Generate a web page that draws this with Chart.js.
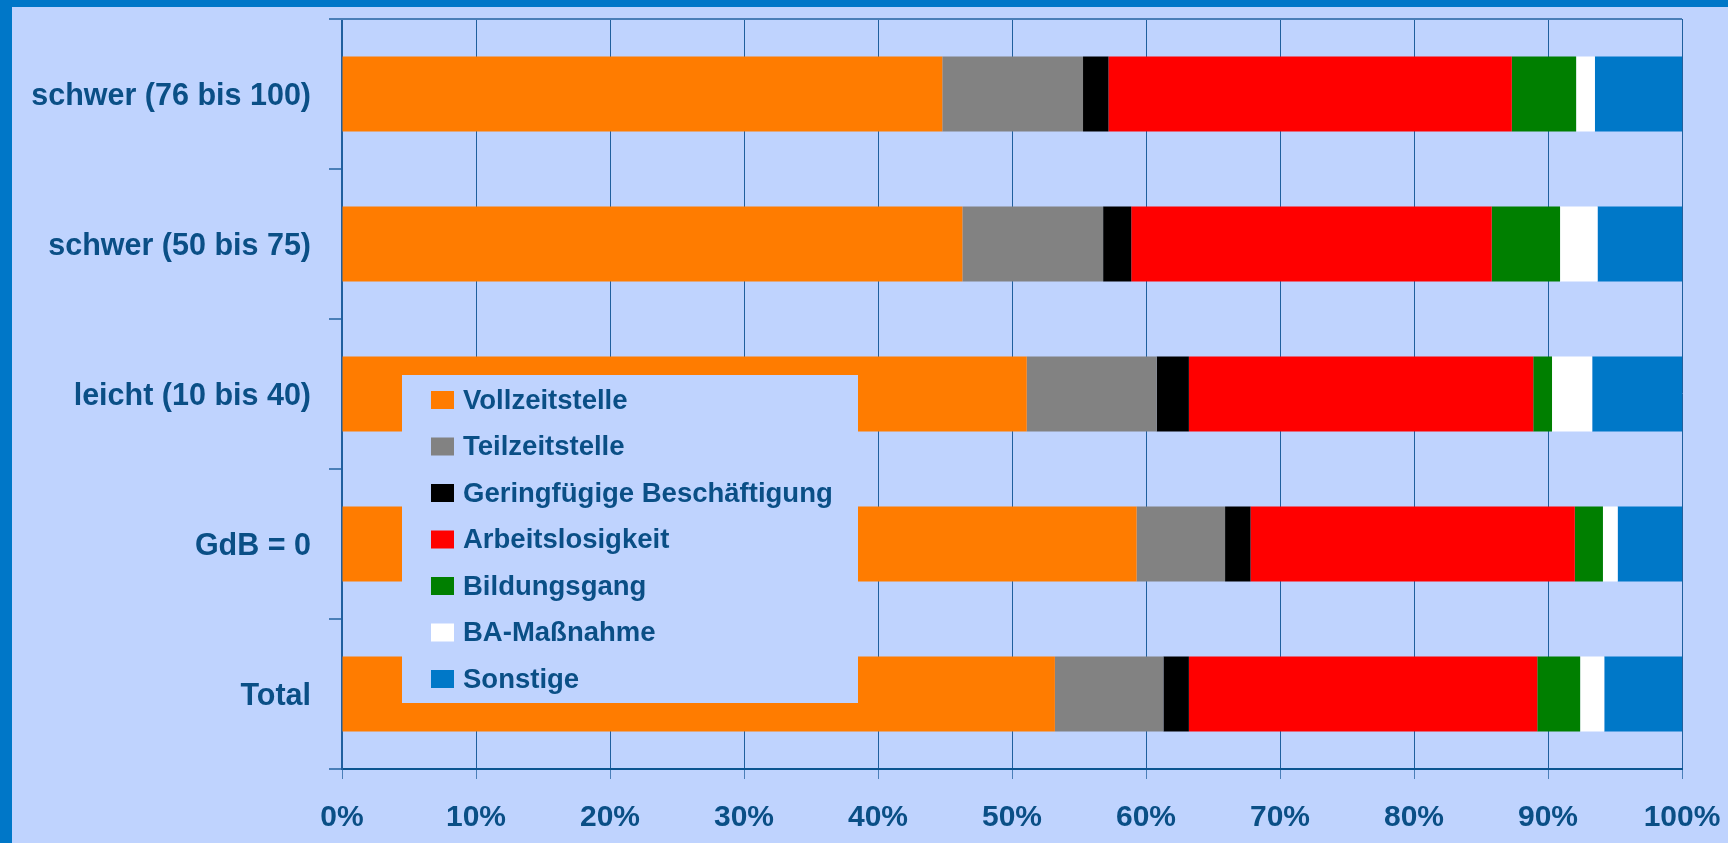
<!DOCTYPE html>
<html>
<head>
<meta charset="utf-8">
<script src="https://cdn.jsdelivr.net/npm/chart.js@4/dist/chart.umd.min.js"></script>
<style>
  html, body { margin: 0; padding: 0; overflow: hidden; background: #bfd3fe; }
  #frame {
    width: 1716px; height: 836px;
    border-top: 7px solid #0077c8;
    border-left: 12px solid #0077c8;
    background: #bfd3fe;
  }
  canvas { display: block; }
</style>
</head>
<body>
<div id="frame"><canvas id="chart" width="1716" height="836"></canvas></div>
<script>
// Categories (top to bottom)
const categories = ['schwer (76 bis 100)', 'schwer (50 bis 75)', 'leicht (10 bis 40)', 'GdB = 0', 'Total'];

// Shares in percent
const vollzeit     = [44.8, 46.3, 51.1, 59.3, 53.2];
const teilzeit     = [10.5, 10.5,  9.7,  6.6,  8.1];
const geringfuegig = [ 1.9,  2.1,  2.4,  1.9,  1.9];
const arbeitslos   = [30.1, 26.9, 25.7, 24.2, 26.0];
const bildung      = [ 4.8,  5.1,  1.4,  2.1,  3.2];
const baMassnahme  = [ 1.4,  2.8,  3.0,  1.1,  1.8];
const sonstige     = [ 6.5,  6.3,  6.7,  4.8,  5.8];

const xTicks = [0, 10, 20, 30, 40, 50, 60, 70, 80, 90, 100];

const textColor = '#0a4f86';
const fontFamily = '"Liberation Sans", Arial, sans-serif';

// Legend box drawn on top of the bars, like the original
const boxLegend = {
  id: 'boxLegend',
  afterDraw(chart) {
    const ctx = chart.ctx;
    ctx.save();
    ctx.fillStyle = '#bfd3fe';
    ctx.fillRect(390, 368, 456, 328);
    ctx.font = 'bold 27.5px ' + fontFamily;
    ctx.textBaseline = 'middle';
    chart.data.datasets.forEach((ds, i) => {
      const y = 393 + i * 46.5;
      ctx.fillStyle = ds.backgroundColor;
      ctx.fillRect(419, y - 9, 23, 18);
      ctx.fillStyle = textColor;
      ctx.fillText(ds.label, 451, y + 1);
    });
    ctx.restore();
  }
};

// Thin line along the top of the plot area
const topLine = {
  id: 'topLine',
  beforeDatasetsDraw(chart) {
    const a = chart.chartArea;
    const ctx = chart.ctx;
    ctx.save();
    ctx.strokeStyle = '#4a7fb8';
    ctx.lineWidth = 2;
    ctx.beginPath();
    ctx.moveTo(a.left - 13, a.top);
    ctx.lineTo(a.right, a.top);
    ctx.stroke();
    ctx.restore();
  }
};

new Chart(document.getElementById('chart'), {
  type: 'bar',
  data: {
    labels: categories,
    datasets: [
      { label: 'Vollzeitstelle', data: vollzeit, backgroundColor: '#ff7c00' },
      { label: 'Teilzeitstelle', data: teilzeit, backgroundColor: '#828282' },
      { label: 'Geringfügige Beschäftigung', data: geringfuegig, backgroundColor: '#000000' },
      { label: 'Arbeitslosigkeit', data: arbeitslos, backgroundColor: '#ff0000' },
      { label: 'Bildungsgang', data: bildung, backgroundColor: '#007f00' },
      { label: 'BA-Maßnahme', data: baMassnahme, backgroundColor: '#ffffff' },
      { label: 'Sonstige', data: sonstige, backgroundColor: '#0078c8' }
    ]
  },
  options: {
    indexAxis: 'y',
    responsive: false,
    animation: false,
    layout: { padding: { top: 12, right: 46, left: 0, bottom: 0 } },
    datasets: { bar: { categoryPercentage: 1, barPercentage: 0.5, borderWidth: 0 } },
    plugins: { legend: { display: false }, tooltip: { enabled: false } },
    scales: {
      x: {
        stacked: true,
        min: 0,
        max: 100,
        afterBuildTicks: (s) => { s.ticks = xTicks.map(v => ({ value: v })); },
        afterFit: (s) => { s.height = 74; s.paddingLeft = 0; s.paddingRight = 0; },
        ticks: {
          color: textColor,
          font: { family: fontFamily, size: 30, weight: 'bold' },
          padding: 21,
          callback: (v) => v + '%'
        },
        grid: { color: '#1f5f9e', lineWidth: 1, tickLength: 10, tickColor: '#4a7fb8' },
        border: { color: '#0b5590', width: 2 }
      },
      y: {
        stacked: true,
        afterFit: (s) => { s.width = 330; s.paddingTop = 0; s.paddingBottom = 0; },
        ticks: {
          color: textColor,
          font: { family: fontFamily, size: 30.5, weight: 'bold' },
          padding: 18,
          labelOffset: 3
        },
        grid: { drawOnChartArea: false, tickLength: 13, color: '#4a7fb8', lineWidth: 2 },
        border: { color: '#1f5f9e', width: 2 }
      }
    }
  },
  plugins: [topLine, boxLegend]
});
</script>
</body>
</html>
